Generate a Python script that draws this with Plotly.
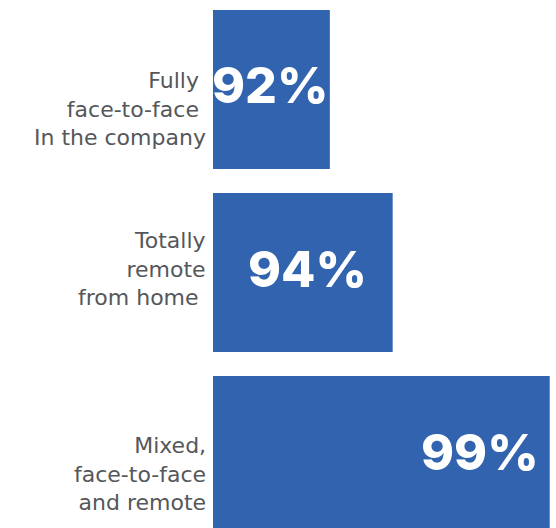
import plotly.graph_objects as go

# Survey shares by working arrangement
categories = [
    "Fully\u00a0<br>face-to-face\u00a0<br>In the company",
    "Totally<br>remote<br>from home\u00a0",
    "Mixed,<br>face-to-face<br>and remote",
]
values = [92, 94, 99]

# per-label fine placement (pixels)
label_yshift = [-20, 4, -18]
value_xshift = [0, -24, -9]

positions = list(range(len(values)))
BAR_BLUE = "#3163AE"
LABEL_GRAY = "#55575A"

fig = go.Figure(
    go.Bar(
        x=values,
        y=positions,
        orientation="h",
        width=0.869,
        marker=dict(color=BAR_BLUE, line=dict(width=0)),
        hoverinfo="skip",
    )
)

for pos, cat, ys in zip(positions, categories, label_yshift):
    fig.add_annotation(
        x=0, xref="paper", y=pos, yref="y",
        text=cat, showarrow=False,
        xanchor="right", yanchor="middle", align="right",
        xshift=-5, yshift=ys,
        font=dict(family="DejaVu Sans", size=22, color=LABEL_GRAY),
    )

for pos, v, xs in zip(positions, values, value_xshift):
    fig.add_annotation(
        x=v, xref="x", y=pos, yref="y",
        text=f"{v}%", showarrow=False,
        xanchor="right", yanchor="middle",
        xshift=xs, yshift=4,
        font=dict(family="Inter", size=50, color="white", weight=800),
    )

fig.update_xaxes(range=[88.28, 99.2], visible=False, showgrid=False, zeroline=False)
fig.update_yaxes(range=[2.396, -0.489], visible=False, showgrid=False, zeroline=False)

fig.update_layout(
    width=556, height=528,
    margin=dict(l=213, r=0, t=0, b=0),
    paper_bgcolor="white", plot_bgcolor="white",
    showlegend=False,
)

fig.write_html("out.html")
